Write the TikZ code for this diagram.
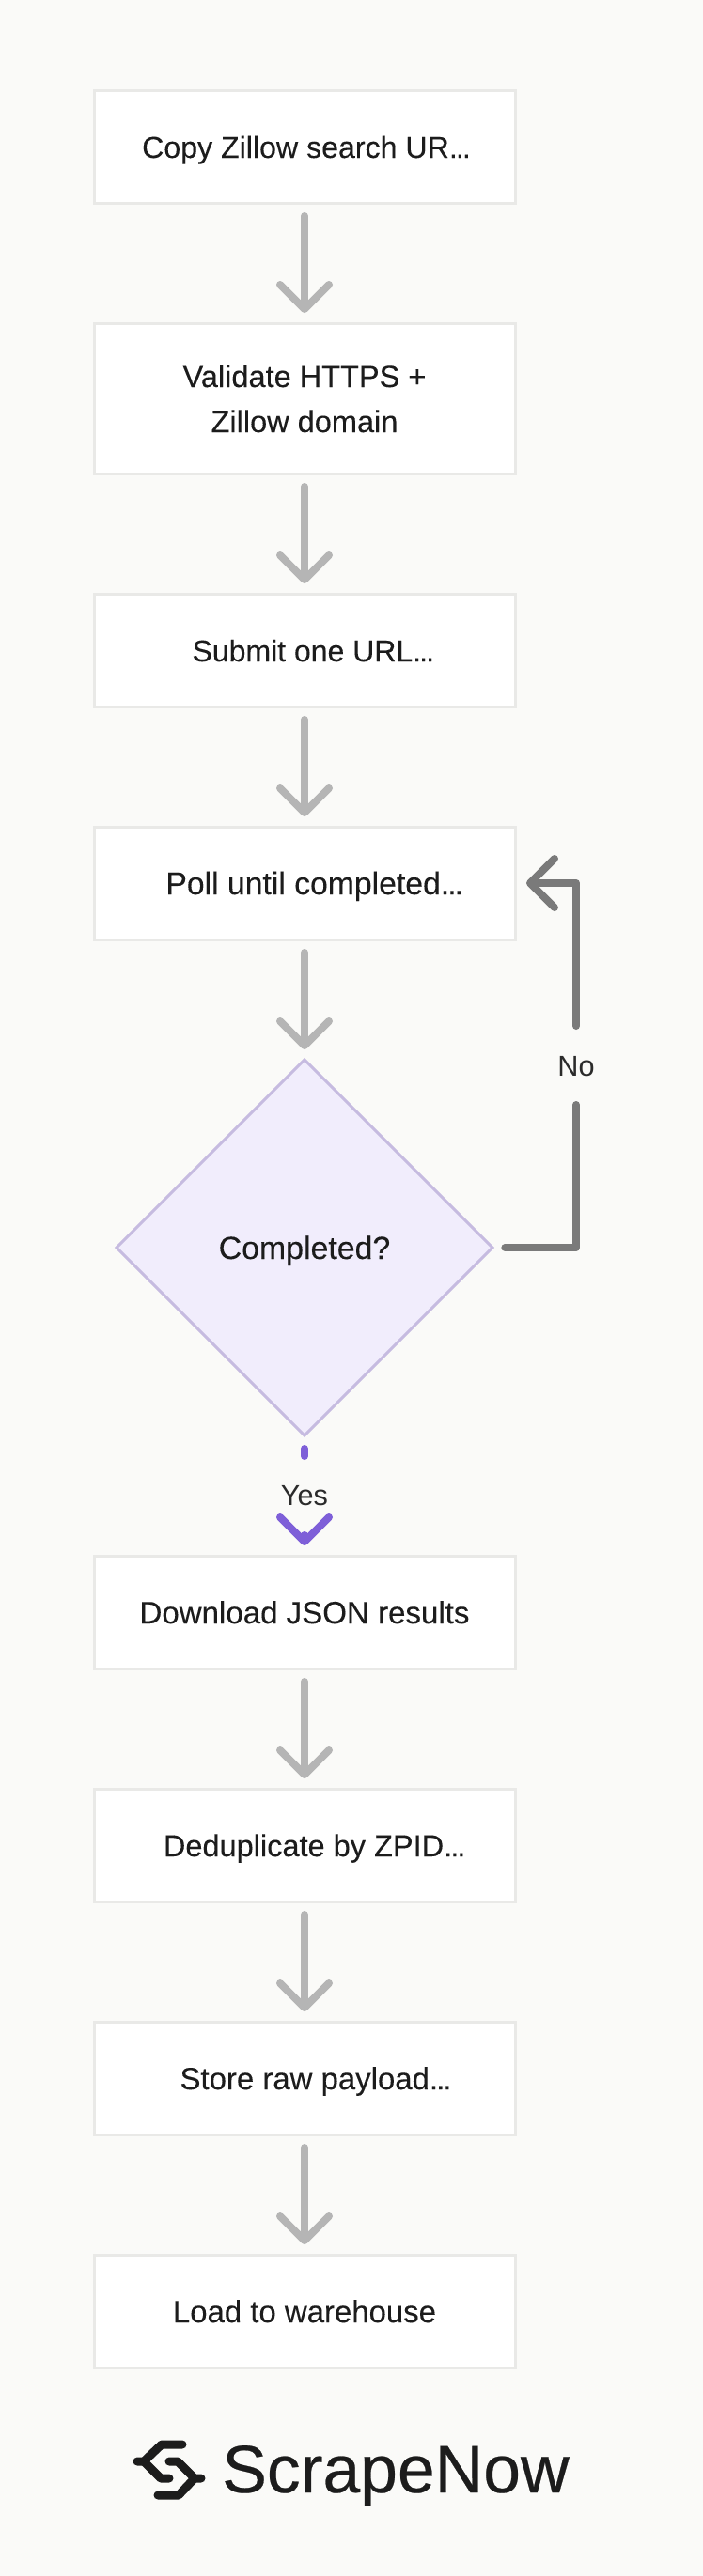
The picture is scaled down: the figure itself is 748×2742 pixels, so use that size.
\documentclass[tikz,border=0pt]{standalone}
\usepackage{fontspec}
\setmainfont{Liberation Sans}
\newfontfamily\medfont[FakeBold=0.15]{Liberation Sans}
\newfontfamily\logofont[FakeBold=0.35]{Liberation Sans}
\usetikzlibrary{shapes.geometric,arrows.meta}
\definecolor{bgc}{HTML}{FAFAF8}
\definecolor{boxline}{HTML}{E9E9E7}
\definecolor{inkc}{HTML}{1C1C1C}
\definecolor{labc}{HTML}{2B2B2B}
\definecolor{arrowc}{HTML}{B5B5B5}
\definecolor{noc}{HTML}{7A7A7A}
\definecolor{yesc}{HTML}{7E5FD8}
\definecolor{diafill}{HTML}{F1EDFC}
\definecolor{dialine}{HTML}{C6BBE0}
\newcommand\flowtext[1]{\rule{0pt}{18pt}\smash{#1}}
\newcommand\tdots{.\kern-0.06em.\kern-0.06em.}
\tikzset{
 fs/.style={font=\medfont\fontsize{#1}{36}\selectfont},
 flowbox/.style={draw=boxline,fill=white,line width=2.25pt,minimum width=336pt,minimum height=90pt,inner sep=0pt,outer sep=0pt,align=center,text=inkc,fs=24.6},
 tallbox/.style={flowbox,minimum height=120pt},
 decide/.style={diamond,aspect=1,draw=dialine,fill=diafill,line width=2.25pt,minimum width=300pt,minimum height=300pt,inner sep=0pt,outer sep=0pt,text=inkc,fs=25.4},
 barb/.style={-{Straight Barb[round,length=19.5pt,width=39pt,line width=6pt]}},
 conn/.style={draw=arrowc,line width=6pt,line cap=round,line join=round,barb},
 edgelab/.style={text=labc,inner sep=0pt,font=\fontsize{23}{27}\selectfont},
 logobar/.style={draw=inkc,line width=6.75pt,line cap=round,line join=round}
}
\begin{document}
\begin{tikzpicture}[x=0.75pt,y=-0.75pt]
\useasboundingbox (0,0) rectangle (748,2742);
\fill[bgc] (0,0) rectangle (748,2742);
\node[flowbox,fs=24.1] (n1) at (324,156) {\hspace*{3pt}\flowtext{Copy Zillow search UR\tdots}};
\node[tallbox,fs=24.4] (n2) at (324,424) {\flowtext{Validate HTTPS +}\\\flowtext{Zillow domain}};
\node[flowbox,fs=24] (n3) at (324,692) {\hspace*{14pt}\flowtext{Submit one URL\tdots}};
\node[flowbox,fs=25.3] (n4) at (324,940) {\hspace*{16pt}\flowtext{Poll until completed\tdots}};
\node[decide] (d) at (324,1328) {\flowtext{Completed?}};
\node[flowbox,fs=24.8] (n5) at (324,1716) {\flowtext{Download JSON results}};
\node[flowbox,fs=24.4] (n6) at (324,1964) {\hspace*{16pt}\flowtext{Deduplicate by ZPID\tdots}};
\node[flowbox,fs=24.7] (n7) at (324,2212) {\hspace*{18pt}\flowtext{Store raw payload\tdots}};
\node[flowbox,fs=24.7] (n8) at (324,2460) {\flowtext{Load to warehouse}};
\draw[conn] ([yshift=-10.5pt]n1.south) -- ([yshift=8.25pt]n2.north);
\draw[conn] ([yshift=-10.5pt]n2.south) -- ([yshift=8.25pt]n3.north);
\draw[conn] ([yshift=-10.5pt]n3.south) -- ([yshift=8.25pt]n4.north);
\draw[conn] ([yshift=-10.5pt]n4.south) -- ([yshift=8.25pt]d.north);
\draw[conn] ([yshift=-10.5pt]n5.south) -- ([yshift=8.25pt]n6.north);
\draw[conn] ([yshift=-10.5pt]n6.south) -- ([yshift=8.25pt]n7.north);
\draw[conn] ([yshift=-10.5pt]n7.south) -- ([yshift=8.25pt]n8.north);
% No branch
\node[edgelab] (no) at (613,1135) {No};
\coordinate (nofrom) at ([xshift=10pt]d.east);
\coordinate (nobend) at (613,1328);
\coordinate (nolow) at (613,1176);
\coordinate (nocut) at (613,1092);
\coordinate (notop) at (613,940);
\draw[draw=noc,line width=6pt,line cap=round,line join=round] (nofrom) -- (nobend) -- (nolow);
\draw[conn,draw=noc] (nocut) -- (notop) -- ([xshift=9pt]n4.east);
% Yes branch
\node[edgelab] (yes) at (324,1592) {Yes};
\draw[draw=yesc,line width=6pt,line cap=round] ([yshift=-10.5pt]d.south) -- ([yshift=-16.5pt]d.south);
\coordinate (yesstub) at (324,1634);
\draw[conn,draw=yesc] (yesstub) -- ([yshift=8.25pt]n5.north);
% Logo
\draw[logobar] (194,2602) -- (172,2602) -- (153,2620) -- (146,2620);
\draw[logobar] (153,2620) -- (171,2638) -- (180,2638);
\draw[logobar] (180,2620) -- (189,2620) -- (207,2638) -- (214,2638);
\draw[logobar] (207,2638) -- (190,2656) -- (168,2656);
\node[anchor=base west,inner sep=0pt,text=inkc,font=\logofont\fontsize{53.6}{60}\selectfont] (logo) at (236,2653) {ScrapeNow};
\end{tikzpicture}
\end{document}
